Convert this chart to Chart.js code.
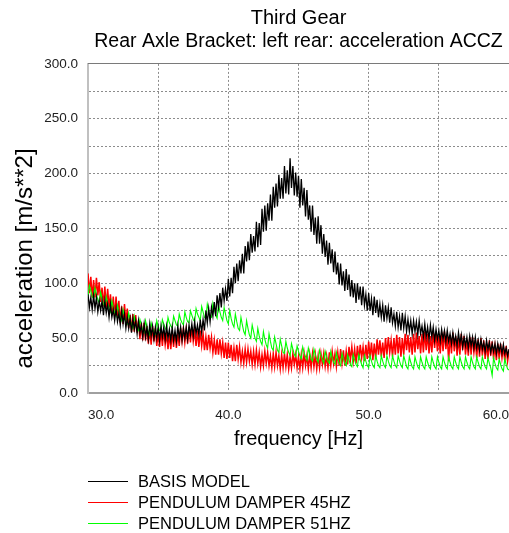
<!DOCTYPE html>
<html>
<head>
<meta charset="utf-8">
<script src="https://cdn.jsdelivr.net/npm/chart.js@4.4.1/dist/chart.umd.min.js"></script>
<style>
  html, body { margin: 0; padding: 0; background: #fff; }
  #wrap { width: 509px; height: 533px; position: relative; }
</style>
</head>
<body>
<div id="wrap"><canvas id="chart"></canvas></div>
<script>
// frequency samples [Hz]
const FREQ = [
  30.0, 30.1, 30.2, 30.3, 30.4, 30.5, 30.6, 30.7, 30.8, 30.9,
  31.0, 31.1, 31.2, 31.3, 31.4, 31.5, 31.6, 31.7, 31.8, 31.9,
  32.0, 32.1, 32.2, 32.3, 32.4, 32.5, 32.6, 32.7, 32.8, 32.9,
  33.0, 33.1, 33.2, 33.3, 33.4, 33.5, 33.6, 33.7, 33.8, 33.9,
  34.0, 34.1, 34.2, 34.3, 34.4, 34.5, 34.6, 34.7, 34.8, 34.9,
  35.0, 35.1, 35.2, 35.3, 35.4, 35.5, 35.6, 35.7, 35.8, 35.9,
  36.0, 36.1, 36.2, 36.3, 36.4, 36.5, 36.6, 36.7, 36.8, 36.9,
  37.0, 37.1, 37.2, 37.3, 37.4, 37.5, 37.6, 37.7, 37.8, 37.9,
  38.0, 38.1, 38.2, 38.3, 38.4, 38.5, 38.6, 38.7, 38.8, 38.9,
  39.0, 39.1, 39.2, 39.3, 39.4, 39.5, 39.6, 39.7, 39.8, 39.9,
  40.0, 40.1, 40.2, 40.3, 40.4, 40.5, 40.6, 40.7, 40.8, 40.9,
  41.0, 41.1, 41.2, 41.3, 41.4, 41.5, 41.6, 41.7, 41.8, 41.9,
  42.0, 42.1, 42.2, 42.3, 42.4, 42.5, 42.6, 42.7, 42.8, 42.9,
  43.0, 43.1, 43.2, 43.3, 43.4, 43.5, 43.6, 43.7, 43.8, 43.9,
  44.0, 44.1, 44.2, 44.3, 44.4, 44.5, 44.6, 44.7, 44.8, 44.9,
  45.0, 45.1, 45.2, 45.3, 45.4, 45.5, 45.6, 45.7, 45.8, 45.9,
  46.0, 46.1, 46.2, 46.3, 46.4, 46.5, 46.6, 46.7, 46.8, 46.9,
  47.0, 47.1, 47.2, 47.3, 47.4, 47.5, 47.6, 47.7, 47.8, 47.9,
  48.0, 48.1, 48.2, 48.3, 48.4, 48.5, 48.6, 48.7, 48.8, 48.9,
  49.0, 49.1, 49.2, 49.3, 49.4, 49.5, 49.6, 49.7, 49.8, 49.9,
  50.0, 50.1, 50.2, 50.3, 50.4, 50.5, 50.6, 50.7, 50.8, 50.9,
  51.0, 51.1, 51.2, 51.3, 51.4, 51.5, 51.6, 51.7, 51.8, 51.9,
  52.0, 52.1, 52.2, 52.3, 52.4, 52.5, 52.6, 52.7, 52.8, 52.9,
  53.0, 53.1, 53.2, 53.3, 53.4, 53.5, 53.6, 53.7, 53.8, 53.9,
  54.0, 54.1, 54.2, 54.3, 54.4, 54.5, 54.6, 54.7, 54.8, 54.9,
  55.0, 55.1, 55.2, 55.3, 55.4, 55.5, 55.6, 55.7, 55.8, 55.9,
  56.0, 56.1, 56.2, 56.3, 56.4, 56.5, 56.6, 56.7, 56.8, 56.9,
  57.0, 57.1, 57.2, 57.3, 57.4, 57.5, 57.6, 57.7, 57.8, 57.9,
  58.0, 58.1, 58.2, 58.3, 58.4, 58.5, 58.6, 58.7, 58.8, 58.9,
  59.0, 59.1, 59.2, 59.3, 59.4, 59.5, 59.6, 59.7, 59.8, 59.9,
  60.0
];

// acceleration [m/s**2], one row per Hz (noise band high/low)
const BASIS = [
  90, 78, 87, 76, 89, 77, 87, 74, 84, 75,
  84, 71, 84, 73, 81, 69, 81, 69, 76, 66,
  77, 65, 73, 62, 75, 63, 72, 59, 69, 59,
  68, 55, 68, 58, 66, 54, 66, 55, 62, 51,
  63, 51, 60, 49, 63, 52, 61, 49, 60, 50,
  60, 48, 61, 51, 60, 49, 61, 50, 58, 48,
  60, 48, 57, 47, 61, 50, 60, 48, 59, 50,
  60, 49, 62, 53, 63, 52, 65, 54, 62, 53,
  67, 55, 67, 57, 75, 64, 77, 65, 78, 70,
  83, 70, 89, 78, 91, 78, 96, 84, 95, 84,
  104, 88, 105, 91, 115, 100, 118, 102, 121, 109,
  127, 109, 134, 120, 138, 121, 145, 128, 143, 129,
  156, 133, 155, 135, 168, 147, 171, 148, 173, 157,
  181, 157, 188, 169, 191, 170, 199, 177, 196, 177,
  207, 182, 203, 181, 214, 187, 207, 180, 201, 179,
  198, 169, 195, 171, 187, 161, 185, 158, 171, 147,
  171, 144, 160, 136, 161, 136, 153, 127, 145, 124,
  139, 117, 137, 118, 131, 110, 129, 108, 119, 99,
  118, 98, 111, 93, 113, 94, 108, 88, 103, 87,
  100, 82, 100, 85, 97, 80, 97, 80, 90, 75,
  91, 75, 86, 71, 88, 73, 85, 69, 81, 69,
  80, 65, 80, 68, 78, 64, 78, 64, 72, 61,
  74, 60, 70, 57, 73, 59, 70, 56, 67, 56,
  66, 54, 66, 56, 65, 53, 66, 54, 61, 51,
  63, 51, 60, 49, 62, 51, 60, 48, 58, 49,
  57, 47, 58, 49, 57, 47, 57, 47, 54, 45,
  55, 45, 52, 43, 55, 45, 53, 42, 51, 43,
  51, 41, 52, 43, 51, 41, 51, 41, 48, 39,
  49, 40, 46, 38, 48, 40, 46, 37, 45, 38,
  45, 36, 45, 38, 44, 36, 44, 36, 41, 34,
  40
];

const PEND45 = [
  109, 91, 106, 87, 103, 87, 105, 89, 101, 83,
  96, 79, 97, 78, 95, 78, 90, 72, 88, 70,
  88, 70, 84, 64, 79, 63, 81, 65, 77, 59,
  71, 56, 72, 56, 71, 55, 66, 49, 64, 48,
  64, 48, 61, 45, 58, 44, 61, 47, 59, 43,
  55, 42, 57, 43, 57, 44, 54, 40, 54, 40,
  55, 42, 55, 41, 54, 43, 59, 47, 59, 46,
  58, 45, 60, 46, 60, 47, 57, 43, 57, 42,
  57, 43, 54, 39, 51, 39, 53, 41, 51, 37,
  48, 35, 49, 35, 49, 36, 46, 32, 46, 31,
  46, 32, 44, 29, 41, 29, 44, 31, 42, 28,
  38, 27, 40, 28, 40, 29, 38, 26, 38, 26,
  39, 27, 37, 24, 35, 25, 38, 27, 37, 25,
  34, 23, 36, 24, 37, 25, 34, 22, 35, 23,
  36, 24, 35, 22, 33, 23, 36, 26, 35, 23,
  33, 22, 35, 23, 36, 25, 34, 22, 35, 23,
  36, 24, 35, 22, 34, 23, 36, 26, 36, 24,
  34, 23, 37, 25, 38, 27, 36, 24, 37, 25,
  40, 27, 39, 25, 38, 26, 42, 30, 42, 29,
  40, 27, 43, 30, 44, 32, 42, 29, 44, 31,
  47, 32, 46, 30, 45, 31, 49, 35, 48, 33,
  46, 32, 50, 35, 51, 37, 48, 33, 50, 35,
  53, 36, 51, 33, 50, 35, 54, 39, 53, 37,
  51, 35, 54, 37, 55, 40, 52, 36, 54, 37,
  56, 39, 54, 36, 52, 37, 56, 41, 55, 38,
  52, 36, 55, 38, 56, 40, 52, 29, 53, 36,
  55, 38, 52, 34, 50, 35, 54, 39, 52, 35,
  48, 34, 51, 35, 51, 37, 48, 32, 49, 33,
  50, 34, 48, 31, 45, 31, 48, 34, 47, 31,
  43, 30, 45, 31, 45, 32, 42, 29, 43, 29,
  38
];

const PEND51 = [
  88, 98, 93, 88, 86, 96, 90, 85, 82, 92,
  86, 81, 78, 88, 82, 77, 74, 84, 78, 73,
  70, 80, 74, 69, 66, 76, 70, 65, 63, 73,
  67, 62, 59, 70, 64, 59, 57, 67, 62, 57,
  55, 66, 60, 56, 53, 64, 59, 56, 54, 66,
  61, 57, 56, 67, 63, 59, 57, 69, 64, 61,
  59, 70, 66, 62, 61, 72, 67, 64, 62, 74,
  69, 65, 64, 75, 71, 67, 65, 77, 72, 69,
  66, 79, 74, 69, 68, 81, 75, 70, 69, 82,
  76, 71, 68, 81, 74, 69, 66, 78, 72, 66,
  63, 75, 68, 63, 60, 72, 65, 59, 57, 69,
  62, 56, 53, 66, 59, 53, 50, 62, 56, 50,
  47, 59, 52, 47, 44, 56, 49, 44, 41, 54,
  47, 41, 39, 51, 45, 39, 37, 49, 43, 37,
  36, 47, 41, 37, 34, 45, 40, 35, 33, 43,
  38, 34, 31, 42, 37, 33, 30, 41, 36, 31,
  29, 40, 35, 31, 28, 39, 34, 30, 27, 38,
  33, 29, 27, 38, 32, 28, 26, 37, 31, 27,
  25, 36, 31, 27, 25, 35, 30, 26, 24, 35,
  30, 26, 24, 35, 30, 26, 23, 34, 29, 25,
  23, 34, 29, 25, 23, 34, 29, 25, 23, 34,
  29, 25, 23, 34, 29, 25, 23, 34, 29, 25,
  23, 34, 29, 25, 23, 34, 29, 24, 22, 33,
  28, 24, 22, 33, 28, 24, 22, 33, 28, 24,
  22, 33, 28, 24, 22, 33, 28, 24, 22, 33,
  28, 24, 22, 33, 28, 24, 22, 33, 28, 24,
  22, 33, 28, 24, 22, 33, 28, 24, 22, 33,
  28, 24, 22, 33, 28, 24, 22, 33, 28, 24,
  22, 33, 28, 24, 22, 32, 27, 23, 16, 32,
  27, 23, 21, 31, 26, 22, 20, 31, 26, 22,
  21
];

const SERIES_LABELS = ['BASIS MODEL', 'PENDULUM DAMPER 45HZ', 'PENDULUM DAMPER 51HZ'];
const SERIES_COLORS = ['#000000', '#ff0000', '#00ff00'];
const SERIES_WIDTHS = [1.3, 1.5, 1.1];
const X_TICKS = [30, 40, 50, 60];
const Y_TICKS = [0, 50, 100, 150, 200, 250, 300];
const TITLE = 'Third Gear';
const SUBTITLE = 'Rear Axle Bracket: left rear: acceleration ACCZ';
const X_TITLE = 'frequency [Hz]';
const Y_TITLE = 'acceleration [m/s**2]';

const FAMILY = '"Liberation Sans", Arial, Helvetica, sans-serif';

function toPoints(vals){
  return FREQ.map((f, i) => ({x: f, y: vals[i]}));
}

// y axis title sits a bit below the plot centre in the original
const sideTitle = {
  id: 'sideTitle',
  afterDraw(chart){
    const ctx = chart.ctx, a = chart.chartArea;
    ctx.save();
    ctx.translate(25, (a.top + a.bottom) / 2 + 30);
    ctx.rotate(-Math.PI / 2);
    ctx.font = '24px ' + FAMILY;
    ctx.fillStyle = '#000';
    ctx.textAlign = 'center';
    ctx.textBaseline = 'middle';
    ctx.fillText(Y_TITLE, 0, 0);
    ctx.restore();
  }
};

// stacked legend under the x title, lined up with the plot's left edge
const lineLegend = {
  id: 'lineLegend',
  afterDraw(chart){
    const ctx = chart.ctx, a = chart.chartArea;
    ctx.save();
    ctx.font = '16.5px ' + FAMILY;
    ctx.textBaseline = 'middle';
    chart.data.datasets.forEach((ds, i) => {
      const y = Math.round(a.bottom + 88 + i * 20.8) + 0.5;
      ctx.strokeStyle = ds.borderColor;
      ctx.lineWidth = 1;
      ctx.beginPath();
      ctx.moveTo(a.left, y);
      ctx.lineTo(a.left + 40, y);
      ctx.stroke();
      ctx.fillStyle = '#000';
      ctx.fillText(ds.label, a.left + 50, y + 1);
    });
    ctx.restore();
  }
};

const datasets = [BASIS, PEND45, PEND51].map((vals, i) => ({
  label: SERIES_LABELS[i],
  data: toPoints(vals),
  borderColor: SERIES_COLORS[i],
  backgroundColor: SERIES_COLORS[i],
  borderWidth: SERIES_WIDTHS[i],
  pointRadius: 0,
  tension: 0,
  order: [0, 2, 1][i]
}));

new Chart(document.getElementById('chart'), {
  type: 'line',
  data: {datasets: datasets},
  plugins: [sideTitle, lineLegend],
  options: {
    responsive: true,
    maintainAspectRatio: false,
    animation: false,
    events: [],
    layout: {padding: {left: 0, right: 0, top: 0, bottom: 80}},
    plugins: {
      legend: {display: false},
      tooltip: {enabled: false},
      title: {display: true, text: TITLE, fullSize: false, color: '#000',
              font: {family: FAMILY, size: 20, weight: 'normal'}, padding: {top: 6, bottom: 0}},
      subtitle: {display: true, text: SUBTITLE, fullSize: false, color: '#000',
                 font: {family: FAMILY, size: 19.5, weight: 'normal'}, padding: {top: 0, bottom: 10.5}}
    },
    scales: {
      x: {
        type: 'linear', position: 'bottom', min: 30, max: 60,
        // tick padding would also pad the right edge, so the gap comes from an invisible tick mark
        ticks: {stepSize: 5, autoSkip: false, maxRotation: 0, align: 'inner', padding: 0,
                color: '#222', font: {family: FAMILY, size: 13.5},
                callback: v => X_TICKS.includes(v) ? v.toFixed(1) : ''},
        grid: {color: '#8c8c8c', lineWidth: 1, drawTicks: true, tickLength: 14, tickColor: 'rgba(0,0,0,0)'},
        border: {color: '#a0a0a0', width: 2, dash: [2, 2]},
        title: {display: true, text: X_TITLE, color: '#000',
                font: {family: FAMILY, size: 20}, padding: {top: 0, bottom: 2}},
        afterFit: s => { s.height = 60; }
      },
      y: {
        min: 0, max: 300,
        ticks: {stepSize: 25, autoSkip: false, padding: 10, color: '#222',
                font: {family: FAMILY, size: 13.5},
                callback: v => Y_TICKS.includes(v) ? v.toFixed(1) : ''},
        grid: {color: '#8c8c8c', lineWidth: 1, drawTicks: false},
        border: {color: '#c0c0c0', width: 2, dash: [2, 2]},
        afterFit: s => { s.width = 88; }
      },
      frameTop: {
        type: 'linear', axis: 'x', position: 'top', min: 30, max: 60,
        grid: {display: false},
        ticks: {display: false},
        border: {color: '#7a7a7a', width: 1},
        afterFit: s => { s.height = 0; }
      }
    }
  }
});
</script>
</body>
</html>
